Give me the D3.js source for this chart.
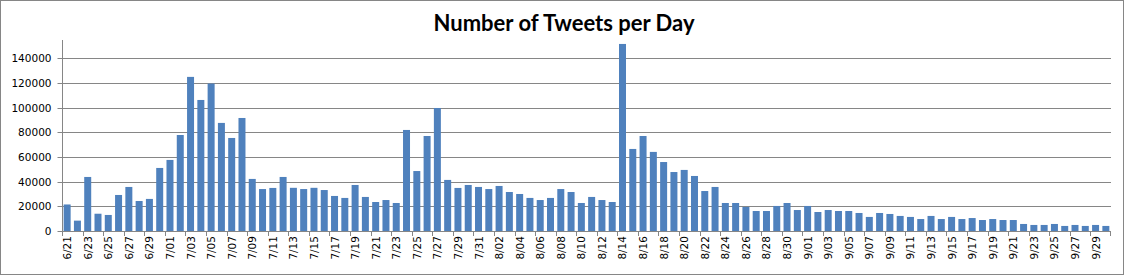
<!DOCTYPE html>
<html>
<head>
<meta charset="utf-8">
<script src="https://cdn.jsdelivr.net/npm/d3@7"></script>
<style>
  body { margin: 0; background: #fff; }
  svg { display: block; }
</style>
</head>
<body>
<div id="chart"></div>
<script>
// categories: one per day, 6/21 .. 9/30
var months = ["6", "7", "8", "9"];
var monthDays = [[21, 30], [1, 31], [1, 31], [1, 30]];

var juneTweets = [21500, 8400, 43800, 14000, 13000, 29200, 35700, 24300, 26000, 51100];
var julyTweets = [57600, 77800, 124900, 106200, 119500, 87600, 75400, 91600, 42200, 34000,
	34900, 43800, 35000, 34000, 35000, 33200, 28400, 26800, 37300, 27600,
	23500, 25100, 22700, 81900, 48600, 77000, 99700, 41400, 34900, 37300, 35700];
var augustTweets = [34000, 36500, 31600, 30000, 26800, 25100, 26800, 34000, 31600, 22700,
	27600, 25100, 23500, 151600, 66500, 77000, 64100, 55900, 47800, 49500,
	44600, 32400, 35700, 22700, 22700, 19500, 16200, 16200, 20300, 22700, 17000];
var septemberTweets = [20300, 15400, 17000, 16200, 16200, 14600, 11400, 14600, 13800, 12200,
	11400, 9700, 12200, 9700, 11400, 9700, 10500, 8900, 9700, 8900,
	8900, 5700, 4900, 4900, 5700, 4100, 4900, 4100, 4900, 4100];

var yTicks = [0, 20000, 40000, 60000, 80000, 100000, 120000, 140000];
var title = "Number of Tweets per Day";

// build the day labels
var days = [];
months.forEach(function(m, i) {
	for (var d = monthDays[i][0]; d <= monthDays[i][1]; d++) {
		days.push(m + "/" + (d < 10 ? "0" + d : d));
	}
});
var values = juneTweets.concat(julyTweets, augustTweets, septemberTweets);
var data = days.map(function(d, i) { return { day: d, value: values[i] }; });

var W = 1126, H = 276;
var plotLeft = 62, plotRight = 1111, plotTop = 40, plotBottom = 231;

var svg = d3.select("#chart").append("svg")
	.attr("width", W)
	.attr("height", H);

// outer border
svg.append("rect")
	.attr("x", 0.5).attr("y", 0.5)
	.attr("width", W - 3).attr("height", H - 2)
	.style("fill", "#fff")
	.style("stroke", "#868686");

var x = d3.scaleBand()
	.domain(days)
	.range([plotLeft, plotRight])
	.paddingInner(0.32)
	.paddingOuter(0.16);

var y = d3.scaleLinear()
	.domain([0, 154800])
	.range([plotBottom, plotTop]);

// gridlines
svg.append("g")
	.selectAll("line")
	.data(yTicks.slice(1))
	.enter().append("line")
	.attr("x1", plotLeft).attr("x2", plotRight)
	.attr("y1", function(d) { return Math.round(y(d)) + 0.5; })
	.attr("y2", function(d) { return Math.round(y(d)) + 0.5; })
	.style("stroke", "#868686")
	.style("stroke-width", 1);

// bars
svg.append("g")
	.selectAll("rect")
	.data(data)
	.enter().append("rect")
	.attr("x", function(d) { return x(d.day); })
	.attr("y", function(d) { return y(d.value); })
	.attr("width", x.bandwidth())
	.attr("height", function(d) { return plotBottom - y(d.value); })
	.style("fill", "#4F81BD");

// y axis
var yAxis = svg.append("g")
	.attr("transform", "translate(" + (plotLeft + 0.5) + ",0)")
	.call(d3.axisLeft(y).tickValues(yTicks).tickSize(5).tickPadding(6).tickFormat(d3.format("d")));
yAxis.select(".domain").attr("d", "M0," + plotTop + "V" + plotBottom).style("stroke", "#868686");
yAxis.selectAll(".tick").attr("transform", function(d) { return "translate(0," + (Math.round(y(d)) + 0.5) + ")"; });
yAxis.selectAll(".tick line").style("stroke", "#868686");
yAxis.selectAll("text")
	.style("font-family", "'DejaVu Sans', Verdana, sans-serif")
	.style("font-size", "10.5px")
	.style("fill", "#000");

// x axis: line, ticks every two days, labels every two days
var step = x.step();
var xg = svg.append("g");
xg.append("line")
	.attr("x1", plotLeft).attr("x2", plotRight)
	.attr("y1", plotBottom + 0.5).attr("y2", plotBottom + 0.5)
	.style("stroke", "#868686");
var tickDays = days.filter(function(d, i) { return i % 2 == 0; });
xg.selectAll(".xtick")
	.data(tickDays)
	.enter().append("line")
	.attr("class", "xtick")
	.attr("x1", function(d) { return Math.round(x(d) - x.paddingInner() * step / 2) + 0.5; })
	.attr("x2", function(d) { return Math.round(x(d) - x.paddingInner() * step / 2) + 0.5; })
	.attr("y1", plotBottom).attr("y2", plotBottom + 5)
	.style("stroke", "#868686");
xg.append("line")
	.attr("x1", plotRight - 0.5).attr("x2", plotRight - 0.5)
	.attr("y1", plotBottom).attr("y2", plotBottom + 5)
	.style("stroke", "#868686");
xg.selectAll(".xlabel")
	.data(tickDays)
	.enter().append("text")
	.attr("class", "xlabel")
	.attr("transform", function(d) {
		return "translate(" + (x(d) + x.bandwidth() / 2 + 4) + "," + (plotBottom + 5) + ") rotate(-90)";
	})
	.attr("text-anchor", "end")
	.style("font-family", "'DejaVu Sans', Verdana, sans-serif")
	.style("font-size", "10.5px")
	.style("fill", "#000")
	.text(function(d) { return d; });

// title
svg.append("text")
	.attr("x", 564)
	.attr("y", 31)
	.attr("text-anchor", "middle")
	.style("font-family", "Lato, 'Open Sans', sans-serif")
	.style("font-weight", "bold")
	.style("font-size", "22px")
	.style("fill", "#000")
	.text(title);
</script>
</body>
</html>
